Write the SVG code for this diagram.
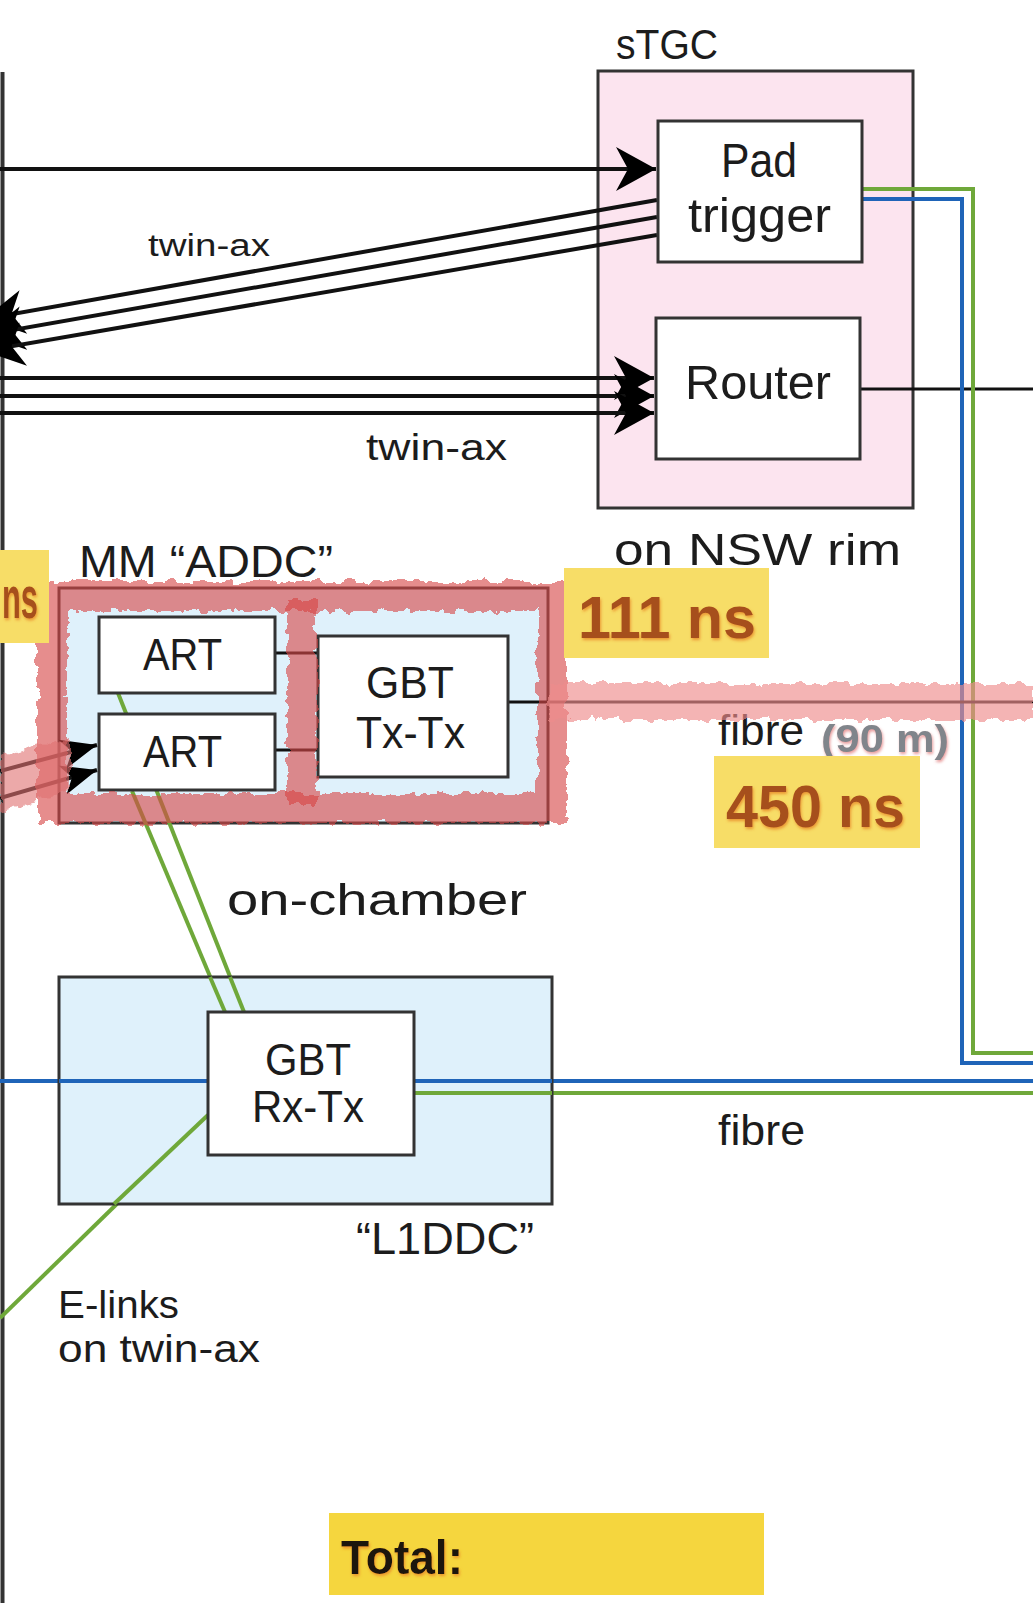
<svg xmlns="http://www.w3.org/2000/svg" width="1033" height="1603" viewBox="0 0 1033 1603">
<style>
.t{font-family:"Liberation Sans",Arial,sans-serif;fill:#1c1c1c}
.b{font-family:"Liberation Sans",Arial,sans-serif;font-weight:bold}
.box{stroke:#333;stroke-width:3}
.ln{stroke:#111;stroke-width:4;fill:none}
.thin{stroke:#111;stroke-width:3;fill:none}
.grn{stroke:#6fa83a;stroke-width:4;fill:none}
.blu{stroke:#1f64b8;stroke-width:4;fill:none}
.yel{fill:#f7dd67}
.ns{fill:#a64f1c}
</style>
<defs>
<marker id="arr" markerUnits="userSpaceOnUse" markerWidth="44" markerHeight="48" refX="40" refY="24" orient="auto" viewBox="0 0 44 48">
<path d="M40,24 L0,2 L12,24 L0,46 Z" fill="#000"/>
</marker>
<marker id="arrs" markerUnits="userSpaceOnUse" markerWidth="40" markerHeight="34" refX="36" refY="17" orient="auto" viewBox="0 0 40 34">
<path d="M36,17 L0,2 L10,17 L0,32 Z" fill="#000"/>
</marker>
<filter id="rough" x="-10%" y="-20%" width="120%" height="140%">
<feTurbulence type="fractalNoise" baseFrequency="0.09" numOctaves="3" seed="4" result="n"/>
<feDisplacementMap in="SourceGraphic" in2="n" scale="12" xChannelSelector="R" yChannelSelector="G"/>
</filter>
<filter id="glow" x="-10%" y="-20%" width="120%" height="150%">
<feDropShadow dx="1" dy="2" stdDeviation="1.5" flood-color="#e88a2a" flood-opacity="0.85"/>
</filter>
<filter id="glowr" x="-10%" y="-20%" width="120%" height="150%">
<feDropShadow dx="1" dy="2" stdDeviation="1.5" flood-color="#e07070" flood-opacity="0.7"/>
</filter>
</defs>

<g id="sTGC">
<rect class="box" x="598" y="71" width="315" height="437" fill="#fce4ef"/>
<text class="t" x="616" y="59" font-size="42" textLength="102" lengthAdjust="spacingAndGlyphs">sTGC</text>
<text class="t" x="614" y="565" font-size="45" textLength="287" lengthAdjust="spacingAndGlyphs">on NSW rim</text>
</g>

<g id="connectors">
<line x1="2.5" y1="72" x2="2.5" y2="1603" stroke="#333" stroke-width="4"/>
<line class="ln" x1="0" y1="169" x2="656" y2="169" marker-end="url(#arr)"/>
<line class="ln" x1="657" y1="200" x2="-16" y2="319" stroke-width="3.5" marker-end="url(#arr)"/>
<line class="ln" x1="657" y1="217" x2="-16" y2="335" stroke-width="3.5" marker-end="url(#arr)"/>
<line class="ln" x1="657" y1="235" x2="-16" y2="351" stroke-width="3.5" marker-end="url(#arr)"/>
<line class="ln" x1="0" y1="378" x2="654" y2="378" marker-end="url(#arr)"/>
<line class="ln" x1="0" y1="396" x2="654" y2="396" marker-end="url(#arr)"/>
<line class="ln" x1="0" y1="413" x2="654" y2="413" marker-end="url(#arr)"/>
<line class="thin" x1="860" y1="389" x2="1033" y2="389"/>
<path class="grn" d="M862,189 H973 V1053 H1033"/>
<path class="blu" d="M862,199 H962 V1063 H1033"/>
<line class="thin" x1="548" y1="702" x2="1033" y2="702"/>
<line class="blu" x1="0" y1="1081" x2="1033" y2="1081"/>
<line class="grn" x1="414" y1="1093" x2="1033" y2="1093"/>
<line class="grn" x1="208" y1="1115" x2="0" y2="1318"/>
</g>

<g id="pad-trigger">
<rect class="box" x="658" y="121" width="204" height="141" fill="#fff"/>
<text class="t" x="721" y="177" font-size="48" textLength="76" lengthAdjust="spacingAndGlyphs">Pad</text>
<text class="t" x="688" y="232" font-size="48" textLength="143" lengthAdjust="spacingAndGlyphs">trigger</text>
</g>
<g id="router">
<rect class="box" x="656" y="318" width="204" height="141" fill="#fff"/>
<text class="t" x="685" y="399" font-size="48" textLength="146" lengthAdjust="spacingAndGlyphs">Router</text>
</g>
<g id="labels-twinax">
<text class="t" x="148" y="256" font-size="31" textLength="122" lengthAdjust="spacingAndGlyphs">twin-ax</text>
<text class="t" x="366" y="460" font-size="37" textLength="141" lengthAdjust="spacingAndGlyphs">twin-ax</text>
</g>

<g id="addc">
<rect class="box" x="59" y="588" width="489" height="235" fill="#dff1fb"/>
<text class="t" x="79" y="577" font-size="45" textLength="254" lengthAdjust="spacingAndGlyphs">MM “ADDC”</text>
<line class="grn" x1="118" y1="693" x2="244" y2="1012" stroke-width="3.5"/>
<line class="grn" x1="132" y1="791" x2="225" y2="1012" stroke-width="3.5"/>
<line class="thin" x1="275" y1="653" x2="318" y2="653"/>
<line class="thin" x1="275" y1="750" x2="318" y2="750"/>
<line class="thin" x1="508" y1="702" x2="548" y2="702"/>
<line class="ln" x1="0" y1="771" x2="97" y2="745" stroke-width="3.5" marker-end="url(#arrs)"/>
<line class="ln" x1="0" y1="798" x2="97" y2="770" stroke-width="3.5" marker-end="url(#arrs)"/>
</g>
<g id="art1">
<rect class="box" x="99" y="617" width="176" height="76" fill="#fff"/>
<text class="t" x="143" y="670" font-size="44" textLength="79" lengthAdjust="spacingAndGlyphs">ART</text>
</g>
<g id="art2">
<rect class="box" x="99" y="714" width="176" height="76" fill="#fff"/>
<text class="t" x="143" y="767" font-size="44" textLength="79" lengthAdjust="spacingAndGlyphs">ART</text>
</g>
<g id="gbt-txtx">
<rect class="box" x="318" y="636" width="190" height="141" fill="#fff"/>
<text class="t" x="366" y="698" font-size="45" textLength="88" lengthAdjust="spacingAndGlyphs">GBT</text>
<text class="t" x="356" y="748" font-size="45" textLength="109" lengthAdjust="spacingAndGlyphs">Tx-Tx</text>
</g>
<text class="t" x="227" y="915" font-size="44" textLength="300" lengthAdjust="spacingAndGlyphs">on-chamber</text>
<text class="t" x="718" y="745" font-size="42" textLength="86" lengthAdjust="spacingAndGlyphs">fibre</text>
<text class="b" x="821" y="752" font-size="38" fill="#80858b" filter="url(#glowr)" textLength="128" lengthAdjust="spacingAndGlyphs">(90 m)</text>

<g id="l1ddc">
<rect class="box" x="59" y="977" width="493" height="227" fill="#dff1fb"/>
<text class="t" x="356" y="1254" font-size="44" textLength="178" lengthAdjust="spacingAndGlyphs">“L1DDC”</text>
<line class="blu" x1="59" y1="1081" x2="208" y2="1081"/>
<line class="blu" x1="414" y1="1081" x2="552" y2="1081"/>
<line class="grn" x1="414" y1="1093" x2="552" y2="1093"/>
<line class="grn" x1="208" y1="1115" x2="114" y2="1204"/>
<line class="grn" x1="230" y1="977" x2="244" y2="1012" stroke-width="3.5"/>
<line class="grn" x1="210" y1="977" x2="225" y2="1012" stroke-width="3.5"/>
</g>
<g id="gbt-rxtx">
<rect class="box" x="208" y="1012" width="206" height="143" fill="#fff"/>
<text class="t" x="265" y="1075" font-size="45" textLength="86" lengthAdjust="spacingAndGlyphs">GBT</text>
<text class="t" x="252" y="1122" font-size="45" textLength="112" lengthAdjust="spacingAndGlyphs">Rx-Tx</text>
</g>
<text class="t" x="718" y="1145" font-size="42" textLength="87" lengthAdjust="spacingAndGlyphs">fibre</text>
<text class="t" x="58" y="1318" font-size="38" textLength="121" lengthAdjust="spacingAndGlyphs">E-links</text>
<text class="t" x="58" y="1362" font-size="38" textLength="202" lengthAdjust="spacingAndGlyphs">on twin-ax</text>

<g id="highlight" filter="url(#rough)">
<rect x="52" y="596" width="500" height="212" fill="none" stroke="#d64545" stroke-opacity="0.62" stroke-width="30"/>
<rect x="287" y="600" width="30" height="205" fill="#d64545" fill-opacity="0.62"/>
<rect x="550" y="684" width="483" height="36" fill="#ee8c8c" fill-opacity="0.65"/>
<path d="M0,757 L70,737 L70,790 L0,812 Z" fill="#e07272" fill-opacity="0.6"/>
</g>

<g id="latency-labels">
<rect class="yel" x="0" y="550" width="49" height="93"/>
<text class="b ns" x="2" y="618" font-size="60" filter="url(#glow)" textLength="36" lengthAdjust="spacingAndGlyphs">ns</text>
<rect class="yel" x="564" y="568" width="205" height="90"/>
<text class="b ns" x="578" y="638" font-size="60" filter="url(#glow)" textLength="178" lengthAdjust="spacingAndGlyphs">111 ns</text>
<rect class="yel" x="714" y="756" width="206" height="92"/>
<text class="b ns" x="726" y="827" font-size="60" filter="url(#glow)" textLength="179" lengthAdjust="spacingAndGlyphs">450 ns</text>
<rect x="329" y="1513" width="435" height="82" fill="#f5d63e"/>
<text class="b" x="341" y="1574" font-size="48" fill="#1a1608" filter="url(#glow)" textLength="122" lengthAdjust="spacingAndGlyphs">Total:</text>
</g>
</svg>
